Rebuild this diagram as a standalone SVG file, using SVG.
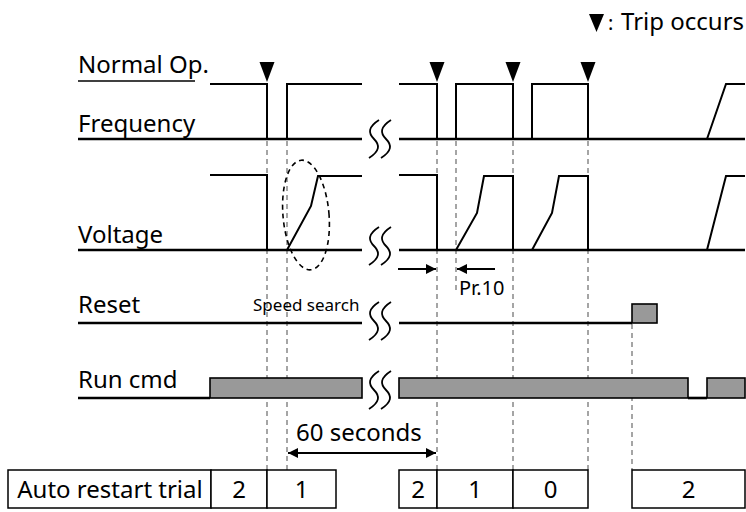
<svg xmlns="http://www.w3.org/2000/svg" width="746" height="512" viewBox="0 0 746 512">
<style>
text{font-family:"Noto Sans","Open Sans","Liberation Sans",sans-serif;fill:#000}
.lbl{font-size:24px}
.sig{fill:none;stroke:#000;stroke-width:2;stroke-linejoin:miter}
.base{fill:none;stroke:#000;stroke-width:2.6}
.guide{fill:none;stroke:#888;stroke-width:1.5;stroke-dasharray:5 4}
.brk{fill:none;stroke:#000;stroke-width:1.8}
.bar{fill:#999;stroke:#000;stroke-width:1.6}
.cell{fill:#fff;stroke:#000;stroke-width:1.5}
.trip{fill:#000}
.arr{fill:none;stroke:#000;stroke-width:2}
</style>
<defs>
<marker id="ah" viewBox="0 0 10 10" refX="10" refY="5" markerWidth="10" markerHeight="10" markerUnits="userSpaceOnUse" orient="auto-start-reverse">
<path d="M0,0 L10,5 L0,10 z" fill="#000"/>
</marker>
<path id="wave" d="M11,0 C0,7 0,13 6,19 C12,25 12,31 1,38"/>
<g id="brk2"><use href="#wave" class="brk"/><use href="#wave" class="brk" x="12"/></g>
</defs>

<g id="legend">
<polygon class="trip" points="589,14 604,14 596.5,32"/>
<text x="608" y="30" font-size="20">:</text>
<text x="621" y="30" class="lbl">Trip occurs</text>
</g>

<g id="guides">
<line class="guide" x1="267" y1="141" x2="267" y2="470"/>
<line class="guide" x1="287" y1="141" x2="287" y2="470"/>
<line class="guide" x1="437" y1="141" x2="437" y2="470"/>
<line class="guide" x1="456" y1="141" x2="456" y2="290"/>
<line class="guide" x1="513" y1="141" x2="513" y2="470"/>
<line class="guide" x1="588" y1="141" x2="588" y2="470"/>
<line class="guide" x1="632" y1="324" x2="632" y2="470"/>
</g>

<g id="frequency">
<text x="78" y="73" class="lbl">Normal Op.</text>
<line x1="78" y1="81" x2="195" y2="81" stroke="#000" stroke-width="1.5"/>
<text x="78" y="132" class="lbl">Frequency</text>
<line class="base" x1="78" y1="139" x2="362" y2="139"/>
<line class="base" x1="399" y1="139" x2="745" y2="139"/>
<polyline class="sig" points="210,84 267,84 267,139"/>
<polyline class="sig" points="287,139 287,84 362,84"/>
<polyline class="sig" points="399,84 437,84 437,139"/>
<polyline class="sig" points="456,139 456,84 513,84 513,139"/>
<polyline class="sig" points="532,139 532,84 588,84 588,139"/>
<polyline class="sig" points="707,139 726,84 745,84"/>
<polygon class="trip" points="259.5,62 274.5,62 267,82"/>
<polygon class="trip" points="429.5,62 444.5,62 437,82"/>
<polygon class="trip" points="505.5,62 520.5,62 513,82"/>
<polygon class="trip" points="580.5,62 595.5,62 588,82"/>
<use href="#brk2" x="368" y="120"/>
</g>

<g id="voltage">
<text x="78" y="243" class="lbl">Voltage</text>
<line class="base" x1="78" y1="250" x2="362" y2="250"/>
<line class="base" x1="399" y1="250" x2="745" y2="250"/>
<polyline class="sig" points="210,175 267,175 267,250"/>
<polyline class="sig" points="287,250 311,206 318,176 362,176"/>
<polyline class="sig" points="399,175 437,175 437,250"/>
<polyline class="sig" points="456,250 477,213 484,176 513,176 513,250"/>
<polyline class="sig" points="532,250 552,213 559,176 588,176 588,250"/>
<polyline class="sig" points="707,250 726,176 745,176"/>
<ellipse cx="306" cy="215" rx="23" ry="55" transform="rotate(-5 306 215)" fill="none" stroke="#000" stroke-width="1.6" stroke-dasharray="5 4"/>
<use href="#brk2" x="368" y="227"/>
</g>

<g id="pr10">
<line class="arr" x1="398" y1="269" x2="436" y2="269" marker-end="url(#ah)"/>
<line class="arr" x1="495" y1="269" x2="457" y2="269" marker-end="url(#ah)"/>
<text x="459" y="295" font-size="20">Pr.10</text>
</g>

<g id="reset">
<text x="78" y="313" class="lbl">Reset</text>
<text x="253" y="311" font-size="17">Speed search</text>
<line class="base" x1="78" y1="323" x2="362" y2="323"/>
<line class="base" x1="399" y1="323" x2="632" y2="323"/>
<rect class="bar" x="632" y="304" width="25" height="19"/>
<use href="#brk2" x="368" y="302"/>
</g>

<g id="runcmd">
<text x="78" y="388" class="lbl">Run cmd</text>
<line class="base" x1="78" y1="398" x2="210" y2="398"/>
<rect class="bar" x="210" y="378" width="152" height="20"/>
<rect class="bar" x="399" y="378" width="289" height="20"/>
<line class="base" x1="688" y1="398" x2="707" y2="398"/>
<rect class="bar" x="707" y="378" width="38" height="20"/>
<use href="#brk2" x="368" y="371"/>
</g>

<g id="sixty">
<text x="296" y="441" class="lbl">60 seconds</text>
<line class="arr" x1="288" y1="453" x2="436" y2="453" marker-start="url(#ah)" marker-end="url(#ah)"/>
</g>

<g id="table">
<rect class="cell" x="8" y="470" width="203" height="38"/>
<rect class="cell" x="211" y="470" width="56" height="38"/>
<rect class="cell" x="267" y="470" width="69" height="38"/>
<rect class="cell" x="399" y="470" width="38" height="38"/>
<rect class="cell" x="437" y="470" width="76" height="38"/>
<rect class="cell" x="513" y="470" width="75" height="38"/>
<rect class="cell" x="632" y="470" width="113" height="38"/>
<g class="lbl" text-anchor="middle">
<text x="110" y="498">Auto restart trial</text>
<text x="239" y="498">2</text>
<text x="301.5" y="498">1</text>
<text x="418" y="498">2</text>
<text x="475" y="498">1</text>
<text x="550.5" y="498">0</text>
<text x="688.5" y="498">2</text>
</g>
</g>
</svg>
